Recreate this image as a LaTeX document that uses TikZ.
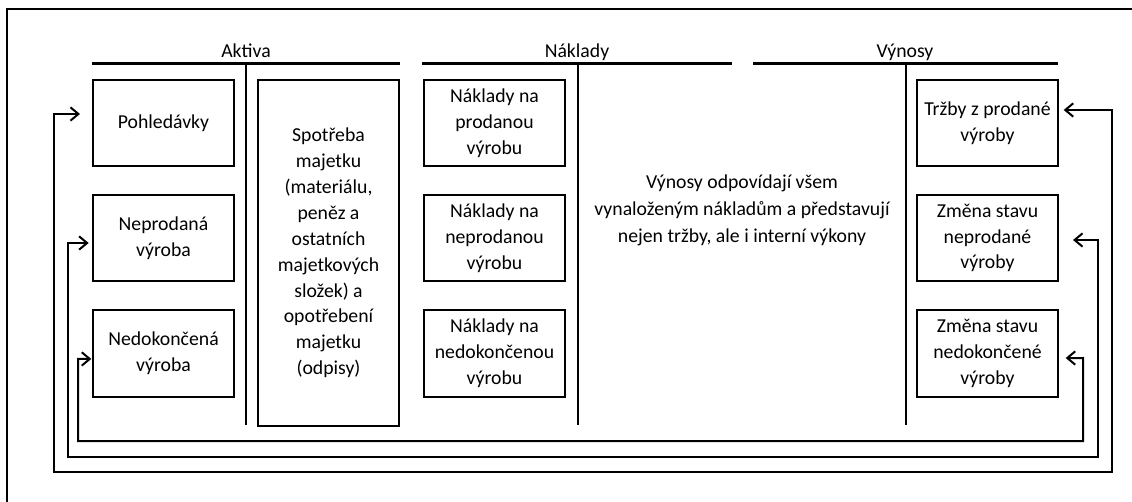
\documentclass[tikz,border=0pt]{standalone}
\usepackage{fontspec}
\setmainfont{Carlito}
\usetikzlibrary{arrows.meta}
\tikzset{
  item/.style={draw, line width=1.5pt, minimum width=105.75pt, minimum height=64.5pt,
    inner sep=0pt, align=center, font=\fontsize{14.8}{19.4}\selectfont},
  tall/.style={item, minimum height=259.5pt},
  head/.style={font=\fontsize{14.8}{19.4}\selectfont, inner sep=0pt, anchor=base},
  rule/.style={line width=1.6pt},
  flow/.style={line width=1.5pt, {Straight Barb[length=6pt,width=10pt,line width=1.5pt]}-{Straight Barb[length=6pt,width=10pt,line width=1.5pt]}},
  note/.style={align=center, font=\fontsize{14.8}{20.2}\selectfont}
}
\begin{document}
\begin{tikzpicture}[x=0.75pt,y=-0.75pt]
\useasboundingbox (0,0) rectangle (1132,502);
\clip (0,0) rectangle (1132,502);

% outer frame (runs past the page on the right and bottom)
\draw[line width=2pt] (7,520) -- (7,9) -- (1150,9);

% column headings
\node[head] (hA) at (246,58) {Aktiva};
\node[head] (hN) at (577,58) {Náklady};
\node[head] (hV) at (905,58) {Výnosy};
\draw[rule] (92,63.5) -- (400,63.5);
\draw[rule] (246,63.5) -- (246,425);
\draw[rule] (422,63.5) -- (732,63.5);
\draw[rule] (578,63.5) -- (578,425);
\draw[rule] (753,63.5) -- (1058,63.5);
\draw[rule] (906,63.5) -- (906,425);

% assets
\node[item] (pohl) at (163.5,123) {Pohledávky};
\node[item] (nepr) at (163.5,238) {Neprodaná\\výroba};
\node[item] (nedo) at (163.5,353.5) {Nedokončená\\výroba};
\node[tall] (spot) at (328.5,253) {Spotřeba\\majetku\\(materiálu,\\peněz a\\ostatních\\majetkových\\složek) a\\opotřebení\\majetku\\(odpisy)};

% costs
\node[item] (nk1) at (494.5,123) {Náklady na\\prodanou\\výrobu};
\node[item] (nk2) at (494.5,238) {Náklady na\\neprodanou\\výrobu};
\node[item] (nk3) at (494.5,353.5) {Náklady na\\nedokončenou\\výrobu};

\node[note] (txt) at (742,210) {Výnosy odpovídají všem\\vynaloženým nákladům a představují\\nejen tržby, ale i interní výkony};

% revenues
\node[item] (trz) at (987.5,123) {Tržby z prodané\\výroby};
\node[item] (zm1) at (987.5,238) {Změna stavu\\neprodané\\výroby};
\node[item] (zm2) at (987.5,353.5) {Změna stavu\\nedokončené\\výroby};

% feedback loops
\draw[flow, shorten <=9pt, shorten >=3.5pt]
  ([yshift=6.75pt]pohl.west) -| (54,472) -| (1112,110) -- ([yshift=9.75pt]trz.east);
\draw[flow, shorten <=2.5pt, shorten >=10.5pt]
  ([yshift=-3.75pt]nepr.west) -| (68,457) -| (1098,240) -- ([yshift=-1.5pt]zm1.east);
\draw[flow, shorten <=0.5pt, shorten >=5pt]
  ([yshift=-4.1pt]nedo.west) -| (78,441) -| (1083,358) -- ([yshift=-3.4pt]zm2.east);
\end{tikzpicture}
\end{document}
